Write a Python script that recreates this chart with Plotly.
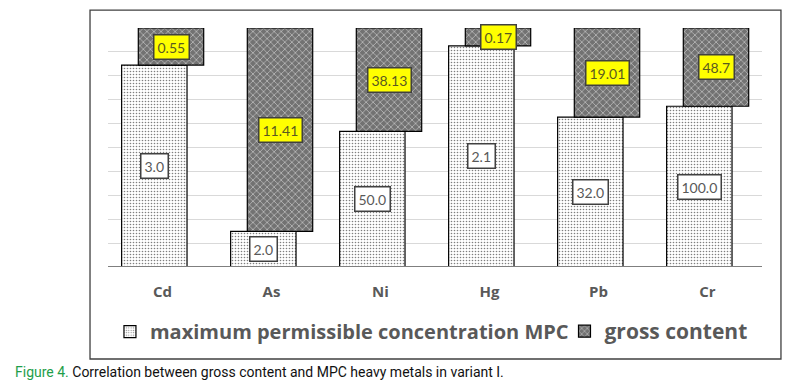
import plotly.graph_objects as go

categories = ["Cd", "As", "Ni", "Hg", "Pb", "Cr"]
mpc = [3.0, 2.0, 50.0, 2.1, 32.0, 100.0]
gross = [0.55, 11.41, 38.13, 0.17, 19.01, 48.7]
mpc_labels = ["3.0", "2.0", "50.0", "2.1", "32.0", "100.0"]
gross_labels = ["0.55", "11.41", "38.13", "0.17", "19.01", "48.7"]

totals = [a + b for a, b in zip(mpc, gross)]
mpc_pct = [a / t * 100 for a, t in zip(mpc, totals)]
gross_pct = [b / t * 100 for b, t in zip(gross, totals)]
xs = list(range(len(categories)))

W = 0.6
OFF_MPC = -0.375
OFF_GROSS = -0.222

fig = go.Figure()
fig.add_trace(go.Bar(
    x=xs, y=mpc_pct, base=[0] * len(xs), name="maximum permissible concentration MPC",
    width=W, offset=OFF_MPC, legend="legend",
    marker=dict(color="white", line=dict(color="black", width=1.2),
                pattern=dict(shape=".", fgcolor="black", bgcolor="white", size=3, solidity=0.22)),
    hoverinfo="skip",
))
fig.add_trace(go.Bar(
    x=xs, y=gross_pct, base=mpc_pct, name="gross content",
    width=W, offset=OFF_GROSS, legend="legend2",
    marker=dict(color="#707070", line=dict(color="black", width=1.2),
                pattern=dict(shape="x", fgcolor="white", bgcolor="#727272", size=5, solidity=0.3)),
    hoverinfo="skip",
))

annotations = []
for i in xs:
    annotations.append(dict(
        x=i + OFF_MPC + W / 2, y=mpc_pct[i] / 2, xref="x", yref="y",
        text=mpc_labels[i], showarrow=False,
        font=dict(family="Lato, Open Sans, sans-serif", size=14, color="#595959"),
        bgcolor="white", bordercolor="#404040", borderwidth=1.5, borderpad=3,
    ))
    annotations.append(dict(
        x=i + OFF_GROSS + W / 2, y=mpc_pct[i] + gross_pct[i] / 2, xref="x", yref="y",
        text=gross_labels[i], showarrow=False,
        font=dict(family="Lato, Open Sans, sans-serif", size=14, color="#5a5a20"),
        bgcolor="#ffff00", bordercolor="#404040", borderwidth=1.5, borderpad=3,
    ))

annotations.append(dict(
    xref="paper", yref="paper", x=-0.146, y=-0.44, xanchor="left", yanchor="middle",
    text="<span style='color:#1e9e4a'>Figure 4.</span> Correlation between gross content and MPC heavy metals in variant I.",
    showarrow=False,
    font=dict(family="Liberation Sans Narrow, Roboto, sans-serif", size=14, color="#111111"),
))

fig.update_layout(
    width=787, height=386,
    margin=dict(l=108, r=25, t=28, b=119, autoexpand=False),
    paper_bgcolor="white", plot_bgcolor="white",
    barmode="overlay",
    showlegend=True,
    legend=dict(orientation="h", x=0.003, xanchor="left", y=-0.27, yanchor="middle",
                font=dict(family="Open Sans, sans-serif", size=20, color="#595959", weight="bold"),
                itemwidth=30, bgcolor="rgba(0,0,0,0)"),
    legend2=dict(orientation="h", x=0.698, xanchor="left", y=-0.27, yanchor="middle",
                 font=dict(family="Open Sans, sans-serif", size=21, color="#595959", weight="bold"),
                 itemwidth=30, bgcolor="rgba(0,0,0,0)"),
    xaxis=dict(range=[-0.5, 5.5], tickvals=xs, ticktext=["<b>%s</b>" % c for c in categories],
               tickfont=dict(family="Open Sans, sans-serif", size=15, color="#595959"),
               showgrid=False, zeroline=False, showline=False, ticks="", ticklabelstandoff=14,
               fixedrange=True),
    yaxis=dict(range=[0, 100], dtick=10, showticklabels=False, showgrid=True,
               gridcolor="#d9d9d9", gridwidth=1, zeroline=False, showline=False, fixedrange=True),
    annotations=annotations,
    shapes=[
        dict(type="line", xref="paper", yref="y", x0=0, x1=1, y0=0, y1=0,
             line=dict(color="#7f7f7f", width=2), layer="above"),
        dict(type="rect", xref="paper", yref="paper", x0=-0.0275, x1=1.029, y0=-0.385, y1=1.0746,
             line=dict(color="#404040", width=1.3), fillcolor="rgba(0,0,0,0)", layer="below"),
    ],
)

fig.write_html("out.html", config={"displayModeBar": False},
               post_script="document.body.style.margin='0';")
